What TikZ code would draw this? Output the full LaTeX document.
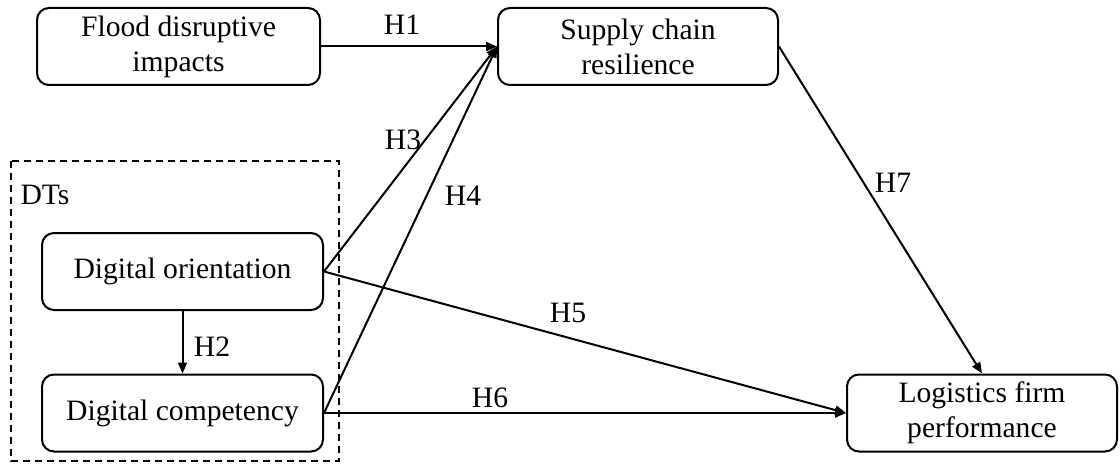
\documentclass[tikz,border=0pt]{standalone}
\usepackage{fontspec}
\setmainfont{Liberation Serif}
\usetikzlibrary{arrows.meta}
\begin{document}
\begin{tikzpicture}[x=0.5pt,y=-0.5pt,
  box/.style={draw,line width=1pt,rounded corners=6pt,align=center,inner sep=0pt,
    minimum height=38.5pt,font=\fontsize{14.8}{17.5}\selectfont},
  arr/.style={line width=1pt,-{Triangle[length=5.5pt,width=4.5pt]}},
  lab/.style={font=\fontsize{14.8}{17.5}\selectfont,inner sep=0pt}]
\useasboundingbox (0,0) rectangle (1120,465);
\draw[line width=0.8pt,dash pattern=on 3.5pt off 2.5pt] (11,161) rectangle (339,461);
\node[lab] (dts) at (45,195) {DTs};
\node[box,minimum width=141.5pt] (flood) at (178.5,46.5) {Flood disruptive\\impacts};
\node[box,minimum width=140pt] (scr) at (638,46.5) {Supply chain\\resilience};
\node[box,minimum width=140.5pt] (do) at (182.5,271.5) {Digital orientation};
\node[box,minimum width=140.5pt] (dc) at (182.5,413) {Digital competency};
\node[box,minimum width=135pt] (lfp) at (982,413) {Logistics firm\\performance};
\draw[arr] (flood.east) -- (scr.west);
\draw[arr] (do.south) -- (dc.north);
\draw[arr] (do.east) -- (scr.west);
\draw[arr] (dc.east) -- (scr.west);
\draw[arr] (do.east) -- (lfp.west);
\draw[arr] (dc.east) -- (lfp.west);
\draw[arr] (scr.east) -- (lfp.north);
\node[lab] (h1) at (402,25) {H1};
\node[lab] (h2) at (212,347) {H2};
\node[lab] (h3) at (403,140) {H3};
\node[lab] (h4) at (463,196) {H4};
\node[lab] (h5) at (568,313) {H5};
\node[lab] (h6) at (490,398) {H6};
\node[lab] (h7) at (893,183) {H7};
\end{tikzpicture}
\end{document}
